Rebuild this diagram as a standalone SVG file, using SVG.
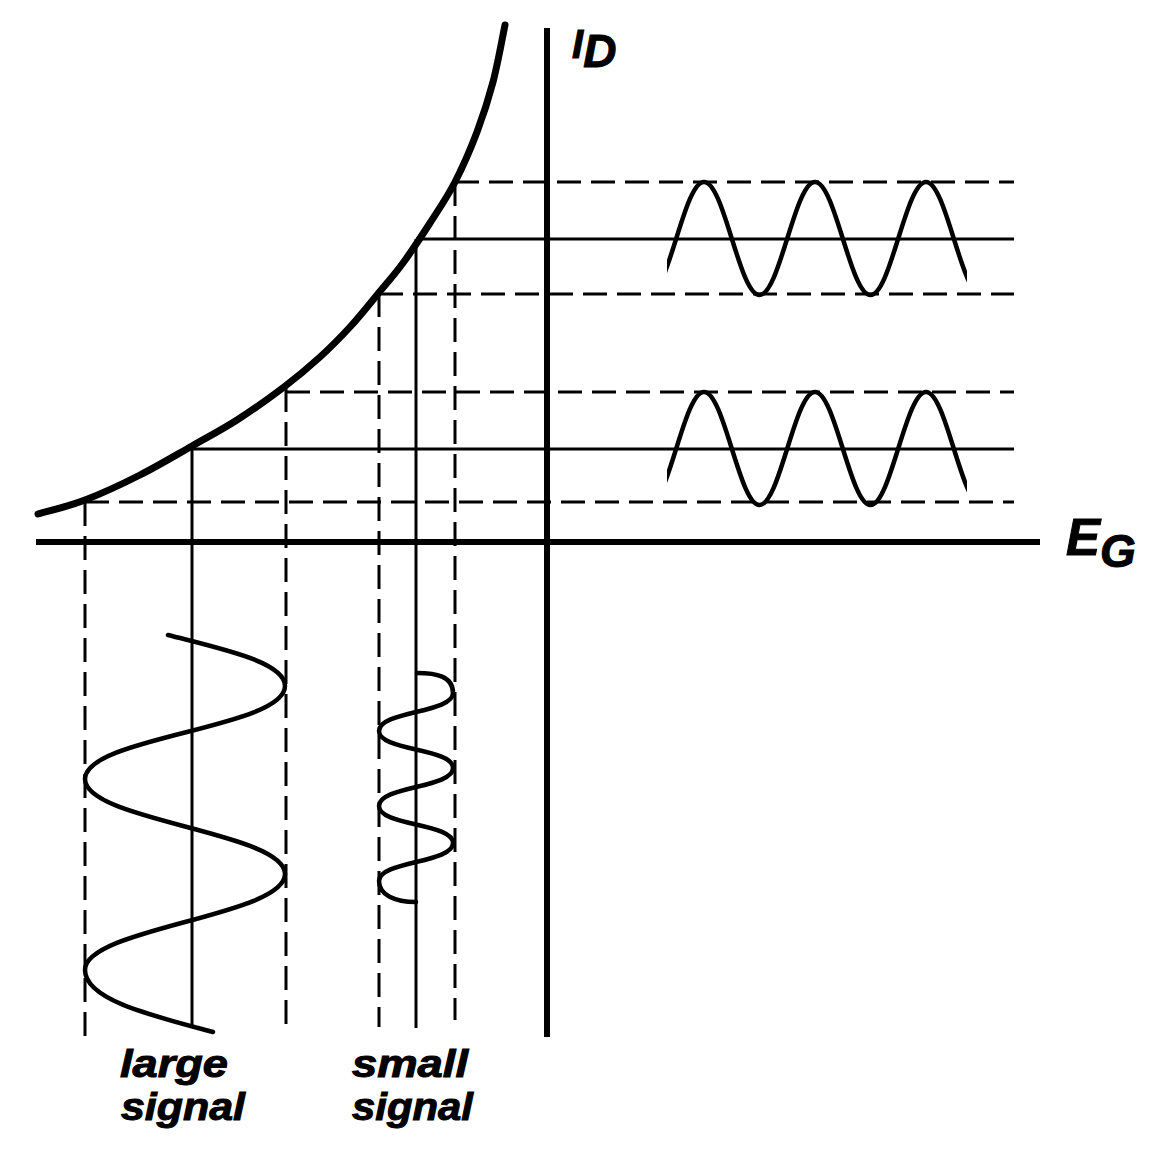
<svg xmlns="http://www.w3.org/2000/svg" width="1153" height="1161" viewBox="0 0 1153 1161">
<style>
.bg{fill:#ffffff}
.thin{stroke:#000;stroke-width:3;fill:none}
.dash{stroke:#000;stroke-width:3;fill:none;stroke-dasharray:24 10}
.axis{stroke:#000;stroke-width:6;fill:none;stroke-linecap:butt}
.curve{stroke:#000;stroke-width:7;fill:none;stroke-linecap:round;stroke-linejoin:round}
.wave{stroke:#000;stroke-width:4.5;fill:none;stroke-linecap:round;stroke-linejoin:round}
.lbl{font-family:"Liberation Sans",Arial,sans-serif;font-weight:bold;font-style:italic;fill:#000;stroke:#000;stroke-width:1}
</style>
<defs>
<clipPath id="wclip" clipPathUnits="userSpaceOnUse"><rect x="667" y="150" width="300" height="180"/></clipPath>
<path id="hwave" d="M648.5,295 C668.7,295 683.8,182 704,182 C724.2,182 739.3,295 759.5,295 C779.7,295 794.8,182 815,182 C835.2,182 850.3,295 870.5,295 C890.7,295 905.8,182 926,182 C946.2,182 961.3,295 981.5,295"/>
</defs>
<rect class="bg" x="0" y="0" width="1153" height="1161"/>

<g id="connectors">
  <!-- horizontal projection lines -->
  <line class="dash" x1="455" y1="182" x2="1014" y2="182"/>
  <line class="thin" x1="416" y1="239" x2="1014" y2="239"/>
  <line class="dash" x1="379" y1="294" x2="1014" y2="294"/>
  <line class="dash" x1="286" y1="392" x2="1014" y2="392"/>
  <line class="thin" x1="192" y1="449" x2="1014" y2="449"/>
  <line class="dash" x1="85" y1="502" x2="1014" y2="502"/>
  <!-- vertical projection lines -->
  <line class="dash" x1="85" y1="502" x2="85" y2="1036"/>
  <line class="thin" x1="192" y1="447" x2="192" y2="1025"/>
  <line class="dash" x1="286" y1="388" x2="286" y2="1034"/>
  <line class="dash" x1="379" y1="293" x2="379" y2="1027"/>
  <line class="thin" x1="416" y1="239" x2="416" y2="1028"/>
  <line class="dash" x1="455" y1="182" x2="455" y2="1020"/>
</g>

<g id="axes">
  <line class="axis" x1="547" y1="28" x2="547" y2="1037"/>
  <line class="axis" x1="36" y1="542" x2="1040" y2="542"/>
</g>

<g id="transfer-curve">
  <path class="curve" d="M38,514 C45.8,511.7 68,506.5 85,500 C102,493.5 122.2,484 140,475 C157.8,466 175.8,455.2 192,446 C208.2,436.8 221.7,429.8 237,420 C252.3,410.2 270.2,397.5 284,387 C297.8,376.5 309,367 320,357 C331,347 340.5,337.3 350,327 C359.5,316.7 368.2,305.7 377,295 C385.8,284.3 394.2,275 403,263 C411.8,251 421.3,236.5 430,223 C438.7,209.5 447.2,197.2 455,182 C462.8,166.8 470.7,148.7 477,132 C483.3,115.3 488.3,99.8 493,82 C497.7,64.2 503,34.5 505,25"/>
</g>

<g id="output-small">
  <use href="#hwave" class="wave" clip-path="url(#wclip)"/>
</g>
<g id="output-large">
  <use href="#hwave" class="wave" clip-path="url(#wclip)" transform="translate(0,210)"/>
</g>

<g id="input-large">
  <path class="wave" d="M168,635 C222,649 285,662 285,686 C285,728 85,737 85,779 C85,821 285,832 285,874 C285,916 85,928 85,970 C85,1000 153,1016 213,1032"/>
</g>

<g id="input-small">
  <path class="wave" d="M417,673 C436,673 453,676 453,693 C453,713 379,711 379,731 C379,751 453,748 453,768 C453,788 379,786 379,806 C379,826 453,823 453,843 C453,863 379,861 379,881 C379,895 395,902 416,902"/>
</g>

<g id="labels">
  <text class="lbl" x="572" y="58" font-size="40">I<tspan font-size="46" dy="9">D</tspan></text>
  <text class="lbl" x="1066" y="555" font-size="51">E<tspan font-size="46" dy="12">G</tspan></text>
  <text class="lbl" x="120" y="1077" font-size="38" textLength="108" lengthAdjust="spacingAndGlyphs">large</text>
  <text class="lbl" x="121" y="1120" font-size="38" textLength="124" lengthAdjust="spacingAndGlyphs">signal</text>
  <text class="lbl" x="352" y="1077" font-size="38" textLength="116" lengthAdjust="spacingAndGlyphs">small</text>
  <text class="lbl" x="352" y="1120" font-size="38" textLength="121" lengthAdjust="spacingAndGlyphs">signal</text>
</g>
</svg>
